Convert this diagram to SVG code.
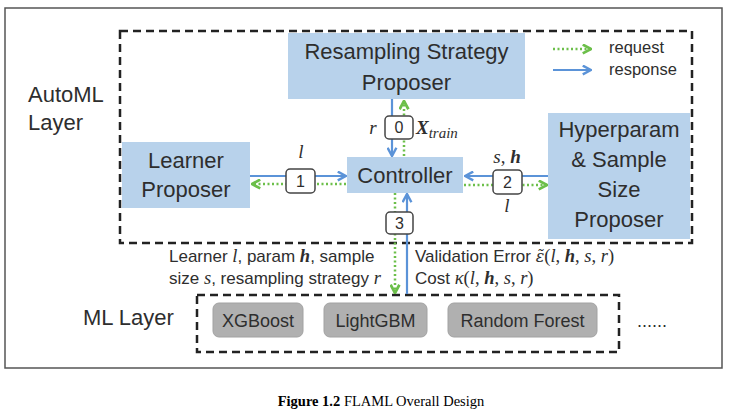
<svg xmlns="http://www.w3.org/2000/svg" width="732" height="414" viewBox="0 0 732 414">
<style>
.t{font-family:"Liberation Sans",Arial,sans-serif;fill:#2e2e2e;}
.n{font-size:22px;text-anchor:middle;}
.box{fill:#b8d2eb;}
.m{font-family:"Liberation Serif","Times New Roman",serif;font-style:italic;}
.mb{font-family:"Liberation Serif","Times New Roman",serif;font-style:italic;font-weight:bold;}
.up{font-family:"Liberation Serif","Times New Roman",serif;}
.eps{font-family:"DejaVu Serif",serif;font-style:italic;font-size:16px;}
.dash{fill:none;stroke:#222;stroke-width:2.5;stroke-dasharray:8 5;}
.req{fill:none;stroke:#6cbf4a;stroke-width:2.5;stroke-dasharray:2 2.5;}
.res{fill:none;stroke:#5b93d8;stroke-width:2.2;}
.num{fill:#fff;stroke:#444;stroke-width:1.5;}
.numt{font-size:16px;text-anchor:middle;}
.ml{fill:#b0b0b0;stroke:#a2a2a2;stroke-width:1;}
.mlt{font-size:18px;text-anchor:middle;}
.lab{font-size:17px;}
</style>
<defs>
<marker id="ab" viewBox="0 0 10 10" refX="9" refY="5" markerWidth="11" markerHeight="11" markerUnits="userSpaceOnUse" orient="auto"><path d="M1.5,1 L9,5 L1.5,9" fill="none" stroke="#5b93d8" stroke-width="2.2"/></marker>
<marker id="ag" viewBox="0 0 10 10" refX="9" refY="5" markerWidth="11" markerHeight="11" markerUnits="userSpaceOnUse" orient="auto"><path d="M1.5,1 L9,5 L1.5,9" fill="none" stroke="#6cbf4a" stroke-width="2.5"/></marker>
</defs>
<rect width="732" height="414" fill="#fff"/>
<rect x="5" y="8" width="717" height="360" fill="none" stroke="#555" stroke-width="1.5"/>

<g id="automl-layer">
<text class="t" x="28" y="102" font-size="22">AutoML</text>
<text class="t" x="28" y="130" font-size="22">Layer</text>
</g>

<g id="resampling">
<rect class="box" x="288" y="33" width="237" height="66"/>
<text class="t n" x="406.5" y="59">Resampling Strategy</text>
<text class="t n" x="406.5" y="90">Proposer</text>
</g>
<g id="learner">
<rect class="box" x="122" y="142" width="128" height="66"/>
<text class="t n" x="186" y="168">Learner</text>
<text class="t n" x="186" y="197">Proposer</text>
</g>
<g id="controller">
<rect class="box" x="347" y="157" width="116" height="36"/>
<text class="t n" x="405" y="183">Controller</text>
</g>
<g id="hyperparam">
<rect class="box" x="548" y="113" width="142" height="126"/>
<text class="t n" x="619" y="137">Hyperparam</text>
<text class="t n" x="619" y="167">&amp; Sample</text>
<text class="t n" x="619" y="197">Size</text>
<text class="t n" x="619" y="227">Proposer</text>
</g>

<path class="dash" d="M120,31 H692 V243 H120 Z"/>

<g id="legend">
<path class="req" d="M553,49 H591" marker-end="url(#ag)"/>
<path class="res" d="M553,70 H591" marker-end="url(#ab)"/>
<text class="t" x="609" y="53" font-size="16.5">request</text>
<text class="t" x="609" y="75" font-size="16.5">response</text>
</g>

<g id="ml-layer">
<text class="t" x="83" y="325" font-size="22">ML Layer</text>
<path class="dash" d="M197,295 H619 V352 H197 Z"/>
<g id="xgboost"><rect class="ml" x="213" y="303" width="90" height="34" rx="6"/><text class="t mlt" x="258" y="327">XGBoost</text></g>
<g id="lightgbm"><rect class="ml" x="324" y="303" width="103" height="34" rx="6"/><text class="t mlt" x="375.5" y="327">LightGBM</text></g>
<g id="randomforest"><rect class="ml" x="448" y="303" width="149" height="34" rx="6"/><text class="t mlt" x="522.5" y="327">Random Forest</text></g>
<text class="t" x="637" y="327" font-size="18">......</text>
</g>

<g id="connectors">
<path class="res" d="M250,176 H346" marker-end="url(#ab)"/>
<path class="req" d="M346,184 H252" marker-end="url(#ag)"/>
<path class="res" d="M548,176 H465" marker-end="url(#ab)"/>
<path class="req" d="M464,185 H547" marker-end="url(#ag)"/>
<path class="res" d="M392,99 V156" marker-end="url(#ab)"/>
<path class="req" d="M404,156 V101" marker-end="url(#ag)"/>
<path class="req" d="M395,193 V293" marker-end="url(#ag)"/>
<path class="res" d="M407,294 V194" marker-end="url(#ab)"/>

<rect class="num" x="385" y="116" width="28" height="23" rx="4"/>
<text class="t numt" x="399" y="133">0</text>
<rect class="num" x="286" y="169" width="29" height="24" rx="4"/>
<text class="t numt" x="300.5" y="187">1</text>
<rect class="num" x="493" y="170" width="29" height="24" rx="4"/>
<text class="t numt" x="507.5" y="188">2</text>
<rect class="num" x="386" y="212" width="27" height="22" rx="4"/>
<text class="t numt" x="399.5" y="229">3</text>

<text class="m" fill="#2e2e2e" x="373" y="134" font-size="19" text-anchor="middle">r</text>
<text fill="#2e2e2e" x="416" y="134"><tspan class="mb" font-size="19">X</tspan><tspan class="m" font-size="15" dy="4">train</tspan></text>
<text class="m" fill="#2e2e2e" x="301" y="158" font-size="19" text-anchor="middle">l</text>
<text fill="#2e2e2e" x="507" y="163" font-size="19" text-anchor="middle"><tspan class="m">s</tspan><tspan class="up">, </tspan><tspan class="mb">h</tspan></text>
<text class="m" fill="#2e2e2e" x="507" y="212" font-size="19" text-anchor="middle">l</text>

<text class="t lab" x="169" y="262">Learner <tspan class="m" font-size="18.5">l</tspan>, param <tspan class="mb" font-size="18.5">h</tspan>, sample</text>
<text class="t lab" x="169" y="284">size <tspan class="m" font-size="18.5">s</tspan>, resampling strategy <tspan class="m" font-size="18.5">r</tspan></text>
<text class="t lab" x="415" y="262">Validation Error <tspan class="eps">ε̃</tspan><tspan class="up" font-size="18.5">(<tspan class="m">l</tspan>, <tspan class="mb">h</tspan>, <tspan class="m">s</tspan>, <tspan class="m">r</tspan>)</tspan></text>
<text class="t lab" x="415" y="284">Cost  <tspan class="up" font-size="18.5"><tspan class="m">κ</tspan>(<tspan class="m">l</tspan>, <tspan class="mb">h</tspan>, <tspan class="m">s</tspan>, <tspan class="m">r</tspan>)</tspan></text>
</g>

<text x="381" y="406" font-family="'Liberation Serif','Times New Roman',serif" font-size="14.5" fill="#000" text-anchor="middle"><tspan font-weight="bold">Figure 1.2</tspan> FLAML Overall Design</text>
</svg>
